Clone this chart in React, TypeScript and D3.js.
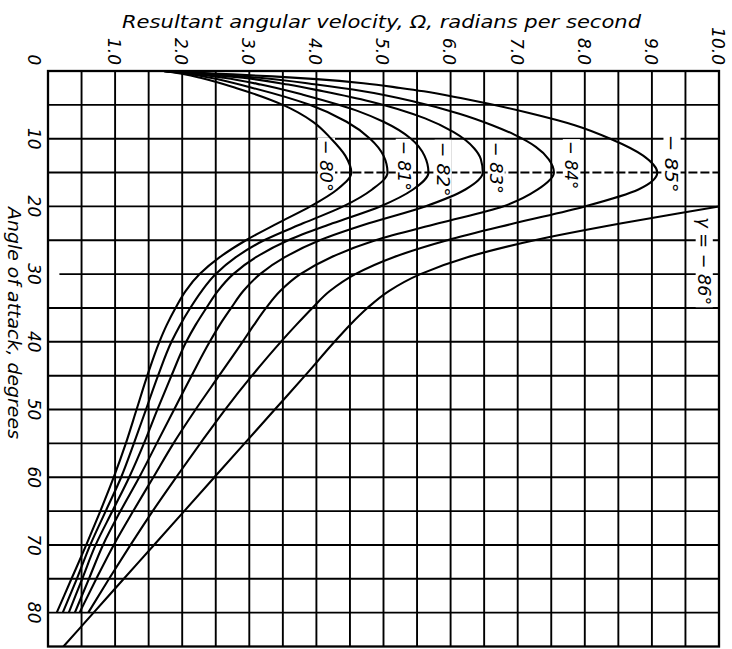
import React from "react";
import * as d3 from "d3";

// Spin-chart: resultant angular velocity vs. angle of attack for several flight-path angles γ.
// The whole figure is turned 90° clockwise: Ω runs left→right along the top, α runs top→bottom.

const W = 732;
const H = 649;

const omegaDomain: [number, number] = [0, 10];
const alphaDomain: [number, number] = [0, 85];

const omegaTicks = [1, 2, 3, 4, 5, 6, 7, 8, 9, 10];
const omegaTickLabels = ["1.0", "2.0", "3.0", "4.0", "5.0", "6.0", "7.0", "8.0", "9.0", "10.0"];
const alphaTicks = [10, 20, 30, 40, 50, 60, 70, 80];

// Each series: [angle of attack (deg), Ω (rad/s)]
const gamma80: [number, number][] = [
  [0, 1.72], [0.5, 2.05], [1, 2.27], [2.5, 2.8], [5, 3.5], [7.5, 3.95], [10, 4.22], [12.5, 4.43],
  [15, 4.52], [17.5, 4.31], [20, 3.91], [22.5, 3.42], [25, 2.95], [27.5, 2.56], [30, 2.26], [32.5, 2.05],
  [35, 1.9], [37.5, 1.77], [40, 1.66], [45, 1.48], [50, 1.32], [55, 1.16], [60, 0.98], [65, 0.78],
  [70, 0.57], [75, 0.35], [80, 0.13],
];
const gamma81: [number, number][] = [
  [0, 1.72], [0.5, 2.15], [1, 2.42], [2.5, 3.05], [5, 3.9], [7.5, 4.45], [10, 4.8], [12.5, 5.0],
  [15, 5.06], [17.5, 4.83], [20, 4.4], [22.5, 3.8], [25, 3.22], [27.5, 2.8], [30, 2.5], [32.5, 2.29],
  [35, 2.12], [37.5, 1.97], [40, 1.84], [45, 1.64], [50, 1.46], [55, 1.28], [60, 1.09], [65, 0.86],
  [70, 0.63], [75, 0.43], [80, 0.22],
];
const gamma82: [number, number][] = [
  [0, 1.72], [0.5, 2.25], [1, 2.62], [2, 3.17], [3.5, 3.8], [5, 4.33], [6, 4.64], [7.5, 5.0], [10, 5.41],
  [12.5, 5.61], [15, 5.67], [17.5, 5.44], [20, 4.95], [22.5, 4.24], [25, 3.58], [27.5, 3.1], [30, 2.76],
  [32.5, 2.53], [35, 2.36], [37.5, 2.2], [40, 2.06], [45, 1.84], [50, 1.63], [55, 1.43], [60, 1.21],
  [65, 0.96], [70, 0.71], [75, 0.51], [80, 0.31],
];
const gamma83: [number, number][] = [
  [0, 1.72], [0.5, 2.38], [1, 2.9], [2, 3.58], [3, 4.1], [4.5, 4.8], [7, 5.62], [9, 6.04], [11.4, 6.35],
  [13, 6.45], [15, 6.48], [17.5, 6.22], [20, 5.62], [22.5, 4.78], [25, 4.05], [27.5, 3.53], [30, 3.16],
  [32.5, 2.91], [35, 2.73], [37.5, 2.56], [40, 2.41], [45, 2.14], [50, 1.88], [55, 1.62], [60, 1.36],
  [65, 1.08], [70, 0.82], [75, 0.61], [80, 0.4],
];
const gamma84: [number, number][] = [
  [0, 1.72], [0.5, 2.5], [1, 3.15], [2, 4.0], [3, 4.7], [4.5, 5.45], [6.3, 6.13], [8, 6.62], [9.4, 6.95],
  [11.2, 7.27], [13, 7.46], [15, 7.54], [17.5, 7.3], [20, 6.78], [22.5, 5.82], [25, 4.88], [27.5, 4.22],
  [30, 3.76], [32.5, 3.46], [35, 3.25], [37.5, 3.07], [40, 2.9], [45, 2.55], [50, 2.2], [55, 1.87],
  [60, 1.57], [65, 1.27], [70, 0.98], [75, 0.72], [80, 0.47],
];
const gamma85: [number, number][] = [
  [0, 1.72], [0.4, 2.55], [0.8, 3.35], [1.2, 4.0], [1.8, 4.7], [2.5, 5.25], [3, 5.6], [4, 6.15],
  [4.8, 6.55], [6.2, 7.17], [8, 7.85], [10, 8.38], [12.5, 8.87], [15, 9.08], [17.5, 8.8], [20, 8.0],
  [22.5, 6.95], [25, 5.95], [27.5, 5.15], [30, 4.58], [32.5, 4.2], [35, 3.94], [37.5, 3.7], [40, 3.47],
  [45, 3.04], [50, 2.64], [55, 2.27], [60, 1.91], [65, 1.56], [70, 1.23], [75, 0.91], [80, 0.6],
];
const gamma86: [number, number][] = [
  [18.5, 10.85], [20, 10.0], [22.5, 8.55], [25, 7.25], [27.5, 6.25], [30, 5.55], [32.5, 5.08],
  [35, 4.76], [37.5, 4.5], [40, 4.27], [45, 3.83], [50, 3.38], [55, 2.93], [60, 2.48], [65, 2.03],
  [70, 1.58], [75, 1.13], [80, 0.68], [85, 0.23],
];

const series = [gamma80, gamma81, gamma82, gamma83, gamma84, gamma85, gamma86];

// Curve call-outs
const curveLabels = ["− 80°", "− 81°", "− 82°", "− 83°", "− 84°", "− 85°", "γ = − 86°"];
const curveLabelOmega = [4.15, 5.31, 5.89, 6.68, 7.8, 9.3, 9.78];
const curveLabelAlpha = [14, 14, 14.5, 14.3, 13.9, 13.7, 28.1];
const curveLabelLength = [52, 50, 55, 52, 48, 58, 88];

const FONT = "'DejaVu Sans', 'Liberation Sans', sans-serif";

export default function App() {
  const x = d3.scaleLinear().domain(omegaDomain).range([48, 719]);
  const y = d3.scaleLinear().domain(alphaDomain).range([71, 646.5]);

  const line = d3
    .line<[number, number]>()
    .x((d) => x(d[1]))
    .y((d) => y(d[0]))
    .curve(d3.curveMonotoneY);

  const vGrid = d3.range(0, 10.001, 0.5);
  const hGrid = d3.range(5, 85, 5);

  const tickSize = 17;
  const tickCap = tickSize * 0.729;
  const labelSize = 18;
  const labelCap = labelSize * 0.729;

  return (
    <svg
      width={W}
      height={H}
      viewBox={`0 0 ${W} ${H}`}
      style={{ position: "absolute", left: 0, top: 0, background: "#fff" }}
      fontFamily={FONT}
      fontStyle="italic"
    >
      <defs>
        <clipPath id="plot-area">
          <rect x={x(0)} y={y(0)} width={x(10) - x(0)} height={y(85) - y(0)} />
        </clipPath>
      </defs>
      <rect width={W} height={H} fill="#fff" />

      {/* grid */}
      <g stroke="#000" strokeWidth={1.9}>
        {vGrid.map((v) => (
          <line key={`v${v}`} x1={x(v)} x2={x(v)} y1={y(0)} y2={y(85)} />
        ))}
        {hGrid.map((a) =>
          a === 15 ? (
            <g key={`h${a}`}>
              <line x1={x(0)} x2={x(4)} y1={y(a)} y2={y(a)} />
              <line x1={x(4)} x2={x(10)} y1={y(a)} y2={y(a)} strokeDasharray="9 3" />
            </g>
          ) : (
            <line key={`h${a}`} x1={a === 30 ? x(0.17) : x(0)} x2={x(10)} y1={y(a)} y2={y(a)} />
          )
        )}
      </g>
      <rect
        x={x(0)}
        y={y(0)}
        width={x(10) - x(0)}
        height={y(85) - y(0)}
        fill="none"
        stroke="#000"
        strokeWidth={2.3}
      />

      {/* white backing behind call-outs */}
      {curveLabels.map((t, i) => (
        <rect
          key={`m${i}`}
          transform={`translate(${x(curveLabelOmega[i]) - labelCap / 2},${y(curveLabelAlpha[i])}) rotate(90)`}
          x={-curveLabelLength[i] / 2 - 2}
          y={-labelCap - 2}
          width={curveLabelLength[i] + 4}
          height={labelCap + 4}
          fill="#fff"
        />
      ))}

      {/* curves */}
      <g clipPath="url(#plot-area)" fill="none" stroke="#000" strokeWidth={2.1} strokeLinejoin="round">
        {series.map((s, i) => (
          <path key={`c${i}`} d={line(s) ?? ""} />
        ))}
      </g>

      {/* call-out text */}
      {curveLabels.map((t, i) => (
        <text
          key={`l${i}`}
          transform={`translate(${x(curveLabelOmega[i]) - labelCap / 2},${y(curveLabelAlpha[i])}) rotate(90)`}
          textAnchor="middle"
          fontSize={labelSize}
          textLength={curveLabelLength[i]}
          lengthAdjust="spacingAndGlyphs"
          fill="#000"
        >
          {t}
        </text>
      ))}

      {/* Ω axis */}
      <text x={122} y={28} fontSize={18} textLength={519} lengthAdjust="spacingAndGlyphs" fill="#000">
        Resultant angular velocity, Ω, radians per second
      </text>
      {omegaTicks.map((v, i) => (
        <text
          key={`ot${v}`}
          transform={`translate(${x(v) - 1 - tickCap / 2},65) rotate(90)`}
          textAnchor="end"
          fontSize={tickSize}
          fill="#000"
        >
          {omegaTickLabels[i]}
        </text>
      ))}

      {/* α axis */}
      <text transform={`translate(28,${y(0) - 11}) rotate(90)`} textAnchor="middle" fontSize={tickSize} fill="#000">
        0
      </text>
      {alphaTicks.map((a) => (
        <text
          key={`at${a}`}
          transform={`translate(27.5,${y(a)}) rotate(90)`}
          textAnchor="middle"
          fontSize={tickSize}
          fill="#000"
        >
          {a}
        </text>
      ))}
      <text
        transform="translate(8,207) rotate(90)"
        fontSize={17}
        textLength={232}
        lengthAdjust="spacingAndGlyphs"
        fill="#000"
      >
        Angle of attack, degrees
      </text>
    </svg>
  );
}
